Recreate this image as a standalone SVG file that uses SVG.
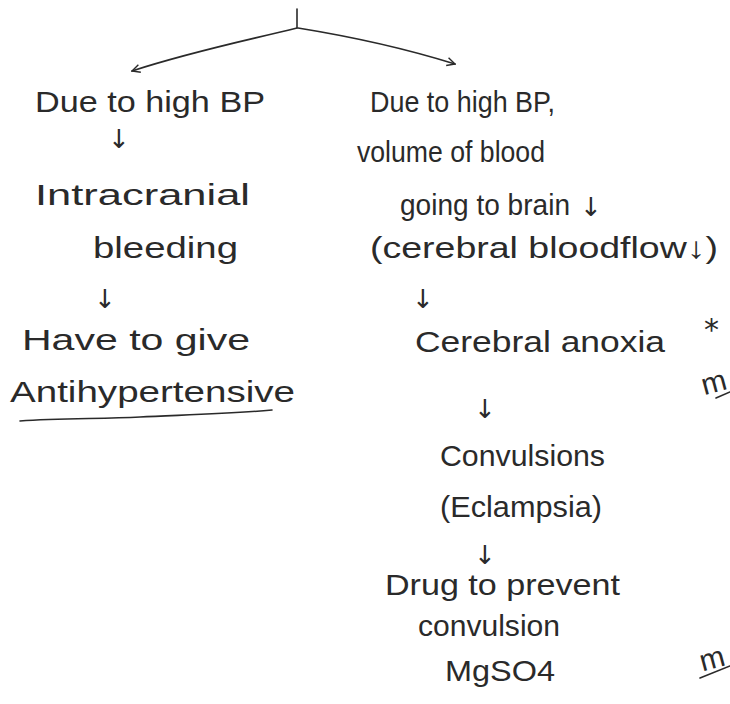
<svg xmlns="http://www.w3.org/2000/svg" width="730" height="704" viewBox="0 0 730 704">
<defs>
<style>
.t{font-family:"Liberation Sans","DejaVu Sans",sans-serif;font-size:30px;fill:#2a2a2a}
.a{font-family:"DejaVu Sans",sans-serif;font-size:26px;fill:#2a2a2a}
.s{font-family:"DejaVu Sans",sans-serif;font-size:30px;fill:#2a2a2a}
.ln{fill:none;stroke:#2a2a2a;stroke-width:1.6;stroke-linecap:round;stroke-linejoin:round}
</style>
<marker id="ah" viewBox="0 0 10 10" refX="9" refY="5" markerWidth="10" markerHeight="10" orient="auto" markerUnits="userSpaceOnUse">
<path d="M1,1 L9,5 L1,9" fill="none" stroke="#2a2a2a" stroke-width="1.4"/>
</marker>
</defs>
<rect width="730" height="704" fill="#ffffff"/>
<g id="connectors">
<path class="ln" d="M297,9 L297,28"/>
<path class="ln" d="M297,28 C240,42 190,52 132,71" marker-end="url(#ah)"/>
<path class="ln" d="M298,28 C360,38 410,50 455,64" marker-end="url(#ah)"/>
</g>
<g id="left">
<text class="t" x="35" y="112" textLength="230" lengthAdjust="spacingAndGlyphs">Due to high BP</text>
<text class="a" x="108" y="148">↓</text>
<text class="t" x="35" y="205" textLength="215" lengthAdjust="spacingAndGlyphs">Intracranial</text>
<text class="t" x="93" y="258" textLength="145" lengthAdjust="spacingAndGlyphs">bleeding</text>
<text class="a" x="94" y="308">↓</text>
<text class="t" x="22" y="350" textLength="228" lengthAdjust="spacingAndGlyphs">Have to give</text>
<text class="t" x="10" y="402" textLength="285" lengthAdjust="spacingAndGlyphs">Antihypertensive</text>
<path class="ln" d="M20,421 C60,418 100,419 140,417 C180,415 230,414 272,410"/>
</g>
<g id="right">
<text class="t" x="370" y="112" textLength="185" lengthAdjust="spacingAndGlyphs">Due to high BP,</text>
<text class="t" x="357" y="162" textLength="188" lengthAdjust="spacingAndGlyphs">volume of blood</text>
<text class="t" x="400" y="215" textLength="170" lengthAdjust="spacingAndGlyphs">going to brain</text>
<text class="a" x="580" y="216">↓</text>
<text class="t" x="370" y="258" textLength="348" lengthAdjust="spacingAndGlyphs">(cerebral bloodflow↓)</text>
<text class="a" x="412" y="308">↓</text>
<text class="t" x="415" y="352" textLength="250" lengthAdjust="spacingAndGlyphs">Cerebral anoxia</text>
<text class="s" x="704" y="340">*</text>
<text class="a" x="474" y="418">↓</text>
<text class="t" x="440" y="466" textLength="165" lengthAdjust="spacingAndGlyphs">Convulsions</text>
<text class="t" x="440" y="517" textLength="162" lengthAdjust="spacingAndGlyphs">(Eclampsia)</text>
<text class="a" x="474" y="564">↓</text>
<text class="t" x="385" y="595" textLength="235" lengthAdjust="spacingAndGlyphs">Drug to prevent</text>
<text class="t" x="418" y="636" textLength="142" lengthAdjust="spacingAndGlyphs">convulsion</text>
<text class="t" x="445" y="681" textLength="110" lengthAdjust="spacingAndGlyphs">MgSO4</text>
</g>
<g id="margin">
<text class="t" x="702" y="392" transform="rotate(-15 715 385)">m</text>
<path class="ln" d="M716,398 L730,392"/>
<text class="t" x="700" y="668" transform="rotate(-15 715 660)">m</text>
<path class="ln" d="M700,678 L730,666"/>
</g>
</svg>
